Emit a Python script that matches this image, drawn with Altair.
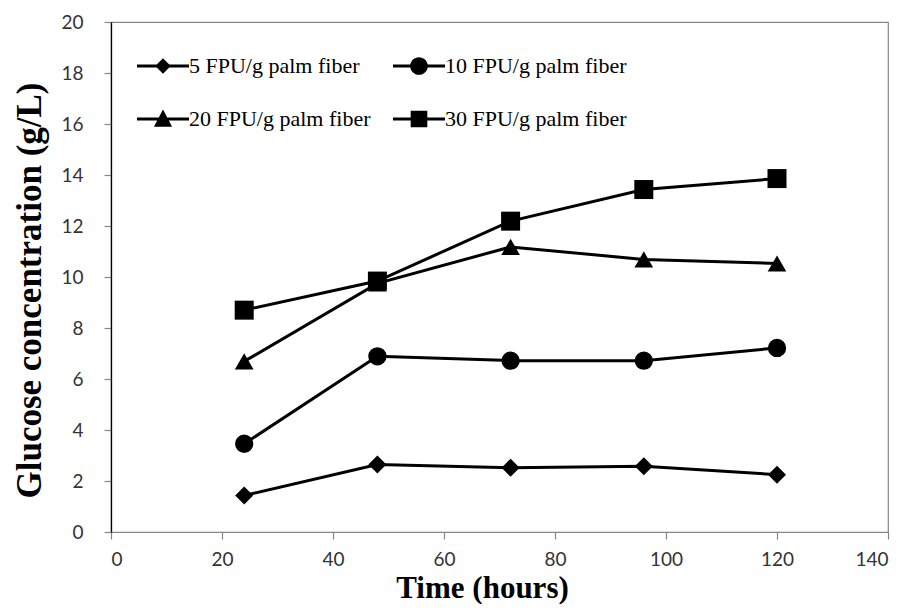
import altair as alt
import pandas as pd

series_names = ["5 FPU/g palm fiber", "10 FPU/g palm fiber", "20 FPU/g palm fiber", "30 FPU/g palm fiber"]
time_hours = [24, 48, 72, 96, 120]
glucose_5 = [1.43, 2.65, 2.52, 2.58, 2.25]
glucose_10 = [3.46, 6.89, 6.72, 6.72, 7.22]
glucose_20 = [6.69, 9.75, 11.18, 10.69, 10.53]
glucose_30 = [8.70, 9.84, 12.19, 13.43, 13.86]
x_ticks = [0, 20, 40, 60, 80, 100, 120, 140]
y_ticks = [0, 2, 4, 6, 8, 10, 12, 14, 16, 18, 20]

rows = []
for name, vals in zip(series_names, [glucose_5, glucose_10, glucose_20, glucose_30]):
    for t, v in zip(time_hours, vals):
        rows.append({"series": name, "time": t, "glucose": v})
df = pd.DataFrame(rows)

plot_shapes = ["diamond", "circle", "triangle-up", "square"]
plot_sizes = [324, 361, 440, 400]

# legend symbols: a line with the marker on it (unit square -1..1 scaled to 52px)
bar = "M-1,-0.058 L1,-0.058 L1,0.058 L-1,0.058 Z "
legend_paths = [
    bar + "M0,-0.3 L0.3,0 L0,0.3 L-0.3,0 Z",
    bar + "M-0.34,0 A0.34,0.34 0 1,1 0.34,0 A0.34,0.34 0 1,1 -0.34,0 Z",
    bar + "M0,-0.37 L0.35,0.3 L-0.35,0.3 Z",
    bar + "M-0.32,-0.32 L0.32,-0.32 L0.32,0.32 L-0.32,0.32 Z",
]

label_font = "Lato"
label_color = "#333333"
axis_gray = "#868686"
serif = "Liberation Serif, Times New Roman, serif"

x_enc = alt.X(
    "time:Q",
    scale=alt.Scale(domain=[0, 140], nice=False, zero=False),
    axis=alt.Axis(
        values=x_ticks, title="Time (hours)", grid=False,
        domainColor=axis_gray, domainWidth=1.2, tickColor=axis_gray, tickSize=7, tickWidth=1.2,
        labelFont=label_font, labelFontSize=19, labelColor=label_color, labelPadding=11,
        titleFont=serif, titleFontWeight="bold", titleFontSize=31, titleColor="black",
        titleBaseline="alphabetic", titleX=371, titleY=65, titleAlign="center",
    ),
)
y_enc = alt.Y(
    "glucose:Q",
    scale=alt.Scale(domain=[0, 20], nice=False, zero=False),
    axis=alt.Axis(
        values=y_ticks, title="Glucose concentration (g/L)", grid=False,
        domainColor="black", domainWidth=1.3, tickColor=axis_gray, tickSize=7, tickWidth=1.2,
        labelFont=label_font, labelFontSize=19, labelColor=label_color, labelPadding=21,
        titleFont=serif, titleFontWeight="bold", titleFontSize=35, titleColor="black",
        titleBaseline="alphabetic", titleAngle=-90, titleX=-71, titleY=268, titleAlign="center",
    ),
)

lines = alt.Chart(df).mark_line(color="black", strokeWidth=3).encode(
    x=x_enc, y=y_enc, detail="series:N", order="time:Q"
)

points = alt.Chart(df).mark_point(filled=True, color="black", opacity=1, strokeWidth=0).encode(
    x=x_enc,
    y=y_enc,
    shape=alt.Shape("series:N", scale=alt.Scale(domain=series_names, range=plot_shapes), legend=None),
    size=alt.Size("series:N", scale=alt.Scale(domain=series_names, range=plot_sizes), legend=None),
)

legend_layer = alt.Chart(df).transform_filter("false").mark_point(
    filled=True, color="black", opacity=1, strokeWidth=0
).encode(
    x=x_enc,
    y=y_enc,
    shape=alt.Shape(
        "series:N",
        scale=alt.Scale(domain=series_names, range=legend_paths),
        legend=alt.Legend(
            title=None, orient="none", legendX=26, legendY=18, columns=2, direction="horizontal",
            symbolSize=2704, symbolFillColor="black", symbolStrokeWidth=0, symbolOpacity=1,
            labelFont=serif, labelFontSize=22, labelColor="black", labelOffset=0,
            labelLimit=400, rowPadding=16, columnPadding=22, padding=0, offset=0,
        ),
    ),
)

chart = (
    alt.layer(lines, points, legend_layer)
    .resolve_scale(shape="independent", size="independent")
    .properties(
        width=777, height=510,
        autosize=alt.AutoSizeParams(type="none"),
        padding={"left": 103, "top": 14, "right": 12, "bottom": 72},
        background="white",
    )
    .configure_view(stroke=axis_gray, strokeWidth=1.2)
)

chart.save("out.html", embed_options={"renderer": "svg", "actions": False})
